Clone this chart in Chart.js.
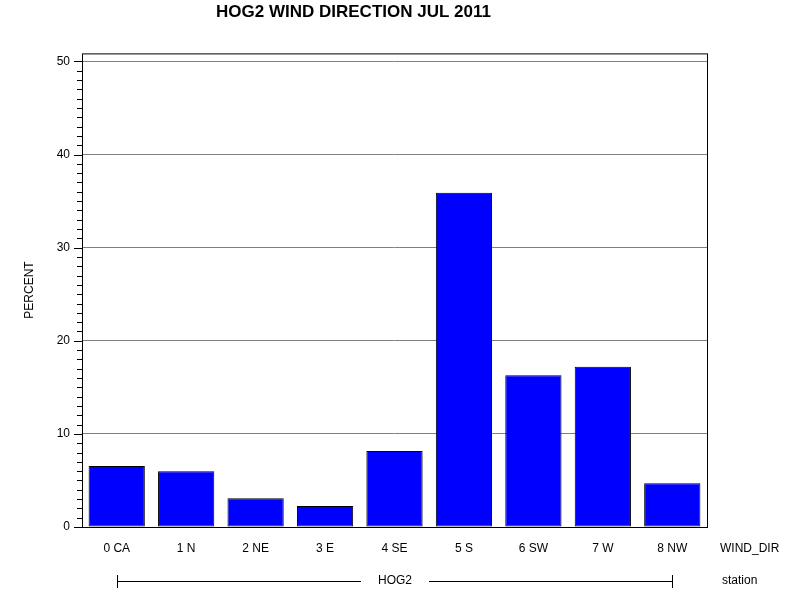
<!DOCTYPE html>
<html>
<head>
<meta charset="utf-8">
<script src="https://cdn.jsdelivr.net/npm/chart.js@4"></script>
<style>
  body { margin: 0; background: #fff; }
  #wrap { width: 800px; height: 600px; }
</style>
</head>
<body>
<div id="wrap"><canvas id="graph" width="800" height="600"></canvas></div>
<script>
// Datos
const categorias = ['0 CA', '1 N', '2 NE', '3 E', '4 SE', '5 S', '6 SW', '7 W', '8 NW'];
const porcentajes = [6.55, 6.0, 3.1, 2.25, 8.15, 35.9, 16.3, 17.2, 4.7];
const ticksMayores = [0, 10, 20, 30, 40, 50];
const FUENTE = '"Liberation Sans", Arial, sans-serif';

// Marco, marcas menores, etiquetas y la línea de "station"
const adornos = {
  id: 'adornos',
  afterDraw(chart) {
    const ctx = chart.ctx, a = chart.chartArea, y = chart.scales.y, x = chart.scales.x;
    ctx.save();
    ctx.strokeStyle = '#000';
    ctx.lineWidth = 1;
    ctx.strokeRect(a.left + 0.5, a.top + 0.5, a.right - a.left, a.bottom - a.top);
    for (let v = 0; v <= 50; v++) {
      const py = Math.round(y.getPixelForValue(v)) + 0.5;
      const len = v % 10 === 0 ? 8 : 5;
      ctx.beginPath(); ctx.moveTo(a.left - len, py); ctx.lineTo(a.left, py); ctx.stroke();
    }
    ctx.fillStyle = '#000';
    ctx.font = '12px ' + FUENTE;
    ctx.textBaseline = 'middle';
    ctx.textAlign = 'center';
    categorias.forEach((c, i) => ctx.fillText(c, x.getPixelForValue(i), 549));
    ctx.textAlign = 'left';
    ctx.fillText('WIND_DIR', 720, 549);
    ctx.fillText('station', 722, 581);
    const x0 = Math.round(x.getPixelForValue(0)) + 0.5, x1 = Math.round(x.getPixelForValue(8)) + 0.5;
    const mid = (x0 + x1) / 2;
    ctx.beginPath();
    ctx.moveTo(x0, 575); ctx.lineTo(x0, 588);
    ctx.moveTo(x1, 575); ctx.lineTo(x1, 588);
    ctx.moveTo(x0, 581.5); ctx.lineTo(mid - 34, 581.5);
    ctx.moveTo(mid + 34, 581.5); ctx.lineTo(x1, 581.5);
    ctx.stroke();
    ctx.textAlign = 'center';
    ctx.fillText('HOG2', mid, 581);
    // etiqueta vertical del eje y
    ctx.translate(30, 290);
    ctx.rotate(-Math.PI / 2);
    ctx.fillText('PERCENT', 0, 0);
    ctx.restore();
  }
};

new Chart(document.getElementById('graph').getContext('2d'), {
  type: 'bar',
  data: {
    labels: categorias,
    datasets: [{
      data: porcentajes,
      backgroundColor: '#0000ff',
      borderColor: '#000',
      borderWidth: 1,
      borderSkipped: false,
      barPercentage: 0.81,
      categoryPercentage: 1
    }]
  },
  options: {
    responsive: false,
    animation: false,
    layout: { padding: { left: 0, right: 93, top: 0, bottom: 0 } },
    plugins: {
      legend: { display: false },
      tooltip: { enabled: false },
      title: {
        display: true,
        text: 'HOG2 WIND DIRECTION JUL 2011',
        color: '#000',
        font: { family: FUENTE, size: 17, weight: 'bold' },
        padding: { top: 2, bottom: 31 }
      }
    },
    scales: {
      x: {
        grid: { display: false },
        border: { display: false },
        ticks: { display: false },
        afterFit(s) { s.height = 73; }
      },
      y: {
        min: 0,
        max: 50.86,
        afterBuildTicks(s) { s.ticks = ticksMayores.map(v => ({ value: v })); },
        grid: {
          drawTicks: false,
          color: ctx => ctx.tick && ctx.tick.value > 0 ? '#808080' : 'rgba(0,0,0,0)'
        },
        border: { display: false },
        ticks: { color: '#000', padding: 12, font: { family: FUENTE, size: 12 } },
        afterFit(s) { s.width = 82; }
      }
    }
  },
  plugins: [adornos]
});
</script>
</body>
</html>
